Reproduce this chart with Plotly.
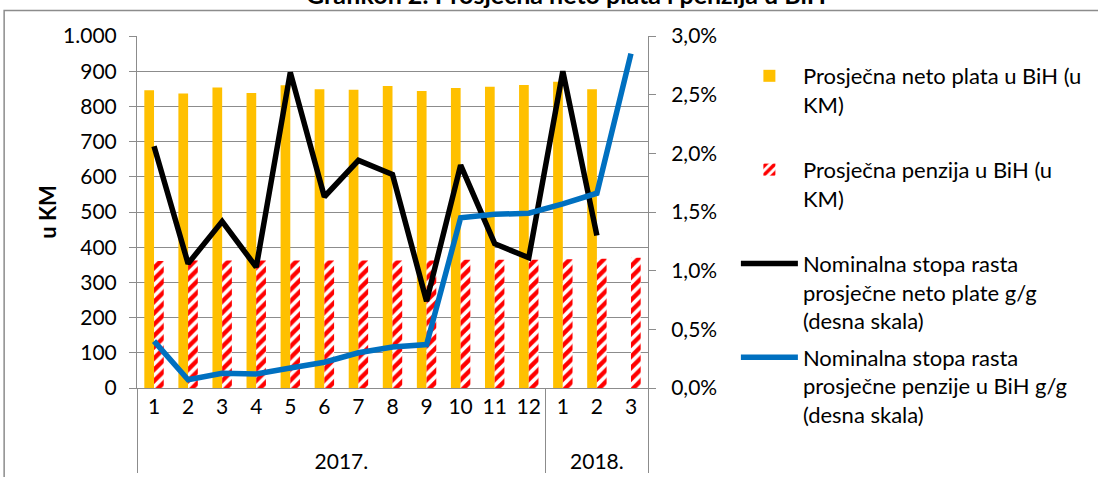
import plotly.graph_objects as go

years = ["2017."] * 12 + ["2018."] * 3
months = ["1", "2", "3", "4", "5", "6", "7", "8", "9", "10", "11", "12", "1", "2", "3"]

plata = [846, 837, 854, 838, 860, 849, 847, 858, 844, 852, 856, 861, 870, 849, None]
penzija = [361, 362, 362, 362, 362, 362, 362, 362, 362, 364, 364, 364, 366, 367, 370]
rast_plate = [2.06, 1.06, 1.42, 1.03, 2.69, 1.63, 1.94, 1.82, 0.74, 1.90, 1.23, 1.11, 2.70, 1.30, None]
rast_penzije = [0.40, 0.07, 0.125, 0.12, 0.17, 0.22, 0.30, 0.35, 0.37, 1.45, 1.48, 1.49, 1.57, 1.66, 2.85]

names = [
    "Prosječna neto plata u BiH (u<br>KM)<br> ",
    "Prosječna penzija u BiH (u<br>KM)<br> ",
    "Nominalna stopa rasta<br>prosječne neto plate g/g<br>(desna skala)",
    "Nominalna stopa rasta<br>prosječne penzije u BiH g/g<br>(desna skala)",
]
title_text = "Grafikon 2: Prosječna neto plata i penzija u BiH"

FONT = "Lato"
GRID = "#8C8C8C"
# year level is pushed one line lower, as in the reference
year_labels = [" <br>" + y for y in years]
x = [year_labels, months]

fig = go.Figure()
fig.add_bar(x=x, y=plata, name=names[0], marker=dict(color="#FFC000", line=dict(width=0)),
            legendgroup="a")
fig.add_bar(x=x, y=penzija, name=names[1],
            marker=dict(color="white", line=dict(width=0),
                        pattern=dict(shape="/", fgcolor="#FF0000", bgcolor="white",
                                     size=8, solidity=0.55, fillmode="replace")),
            legendgroup="b")
fig.add_scatter(x=x, y=rast_plate, name=names[2], yaxis="y2", mode="lines",
                line=dict(color="black", width=5.5), legendgroup="c")
fig.add_scatter(x=x, y=rast_penzije, name=names[3], yaxis="y2", mode="lines",
                line=dict(color="#0070C0", width=5.5), legendgroup="d")

fig.update_layout(
    width=1098, height=477, autosize=False,
    margin=dict(l=137, r=450, t=36, b=89, autoexpand=False),
    paper_bgcolor="white", plot_bgcolor="white",
    separators=",.",
    font=dict(family=FONT, size=21, color="black"),
    barmode="group", bargap=0.43, bargroupgap=0,
    xaxis=dict(type="multicategory", showline=True, linecolor=GRID, linewidth=1,
               showdividers=True, dividercolor=GRID, dividerwidth=1, automargin=False,
               showgrid=False, ticks="", tickfont=dict(size=21)),
    yaxis=dict(range=[0, 1000], dtick=100, tickformat=",", showgrid=True, gridcolor=GRID,
               gridwidth=1, showline=True, linecolor=GRID, ticks="outside", ticklen=7,
               tickcolor=GRID, ticklabelstandoff=8, zeroline=False, automargin=False,
               tickfont=dict(size=21),
               title=dict(text="<b>u KM</b>", font=dict(size=22), standoff=0)),
    yaxis2=dict(overlaying="y", side="right", range=[0, 3], dtick=0.5, tickformat=".1f",
                ticksuffix="%", showgrid=False, showline=True, linecolor=GRID,
                ticks="outside", ticklen=7, tickcolor=GRID, ticklabelstandoff=11,
                zeroline=False, automargin=False, tickfont=dict(size=21)),
    legend=dict(x=1.172, y=0.946, xanchor="left", yanchor="top", valign="top",
                font=dict(size=22), itemwidth=57, tracegroupgap=5, maxheight=470,
                bgcolor="rgba(0,0,0,0)"),
    annotations=[dict(text="<b>" + title_text + "</b>", xref="paper", yref="paper",
                      x=(566 - 137) / 511, y=(388 + 6) / 352, xanchor="center",
                      yanchor="middle", showarrow=False,
                      font=dict(family=FONT, size=25))],
    shapes=[dict(type="rect", xref="paper", yref="paper",
                 x0=-0.26, x1=1.9, y0=-0.4, y1=(388 - 10.5) / 352,
                 line=dict(color=GRID, width=1.5), layer="below")],
)

fig.write_html("out.html", config={"displayModeBar": False},
               post_script="document.body.style.margin='0px';")
